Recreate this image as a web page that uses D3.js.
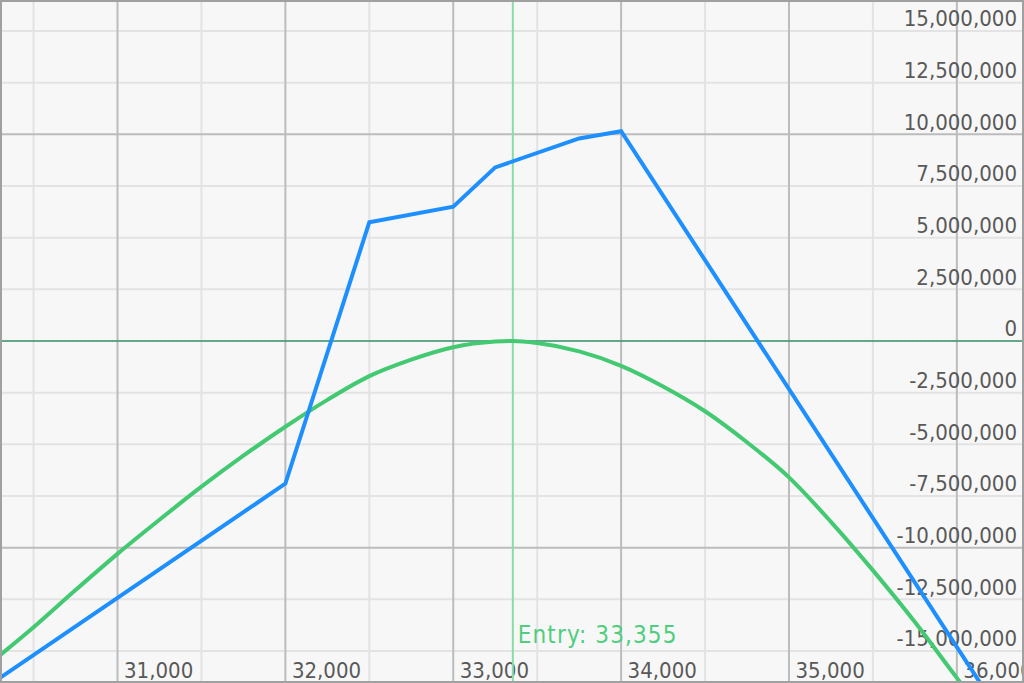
<!DOCTYPE html>
<html>
<head>
<meta charset="utf-8">
<script src="https://cdn.jsdelivr.net/npm/d3@7"></script>
<style>
  html, body { margin: 0; padding: 0; background: #f7f7f7; overflow: hidden; }
  svg { display: block; }
  text { font-family: 'DejaVu Sans Condensed', 'DejaVu Sans', sans-serif; font-stretch: condensed; }
</style>
</head>
<body>
<svg id="chart" width="1024" height="683"></svg>
<script>
// ---- data ----
const xTicks = [31000, 32000, 33000, 34000, 35000, 36000];
const xMinorTicks = [30500, 31500, 32500, 33500, 34500, 35500];
const yTicks = [-15000000, -12500000, -10000000, -7500000, -5000000, -2500000, 0,
                2500000, 5000000, 7500000, 10000000, 12500000, 15000000];
const yMajorTicks = [-10000000, 10000000];
const entryPrice = 33355;

// expiry P&L (blue)
const expiryPrices = [30300, 32000, 32500, 33000, 33250, 33750, 34000, 36400];
const expiryPnL = [-16300000, -6900000, 5750000, 6500000, 8400000, 9800000, 10150000, -19800000];

// current P&L (green)
const currentPrices = [30300, 30500, 30750, 31000, 31250, 31500, 31750, 32000, 32250, 32500,
                       32750, 33000, 33250, 33355, 33500, 33750, 34000, 34250, 34500, 34750,
                       35000, 35250, 35500, 35750, 36000, 36250, 36400];
const currentPnL = [-15200000, -13850000, -12050000, -10300000, -8650000, -7050000, -5550000,
                    -4150000, -2850000, -1700000, -900000, -300000, -30000, 0, -100000,
                    -500000, -1200000, -2200000, -3400000, -4900000, -6600000, -8750000,
                    -11100000, -13600000, -16300000, -18900000, -20500000];

// ---- chart ----
const W = 1024, H = 683;
const svg = d3.select('#chart');
const x = d3.scaleLinear().domain([30300, 36400]).range([0, W]);
const y = d3.scaleLinear().domain([-16500000, 16500000]).range([682, 0]);
const fmt = d3.formatLocale({decimal: '.', thousands: ',', grouping: [3], currency: ['', ''], minus: '-'}).format(',');

svg.append('rect').attr('width', W).attr('height', H).attr('fill', '#f7f7f7');

// minor grid
const grid = svg.append('g');
grid.selectAll('line.vminor').data(xMinorTicks).join('line')
  .attr('x1', d => x(d)).attr('x2', d => x(d)).attr('y1', 0).attr('y2', H)
  .attr('stroke', '#e3e3e3').attr('stroke-width', 2);
grid.selectAll('line.hminor').data(yTicks.filter(d => d !== 0 && !yMajorTicks.includes(d))).join('line')
  .attr('x1', 0).attr('x2', W).attr('y1', d => y(d)).attr('y2', d => y(d))
  .attr('stroke', '#e3e3e3').attr('stroke-width', 2);
// major grid
grid.selectAll('line.vmajor').data(xTicks).join('line')
  .attr('x1', d => x(d)).attr('x2', d => x(d)).attr('y1', 0).attr('y2', H)
  .attr('stroke', '#bcbcbc').attr('stroke-width', 2);
grid.selectAll('line.hmajor').data(yMajorTicks).join('line')
  .attr('x1', 0).attr('x2', W).attr('y1', d => y(d)).attr('y2', d => y(d))
  .attr('stroke', '#bcbcbc').attr('stroke-width', 2);

// axis labels (via d3 axes)
const yAxis = d3.axisLeft(y).tickValues(yTicks).tickSize(0).tickPadding(0).tickFormat(fmt);
const gy = svg.append('g').attr('transform', 'translate(1017,0)').call(yAxis);
gy.select('.domain').remove();
gy.selectAll('text').attr('fill', '#595959').attr('font-size', 22)
  .attr('font-family', null).attr('dy', '-0.24em').attr('text-anchor', 'end');

const xAxis = d3.axisBottom(x).tickValues(xTicks).tickSize(0).tickPadding(0).tickFormat(fmt);
const gx = svg.append('g').attr('transform', 'translate(0,678)').call(xAxis);
gx.select('.domain').remove();
gx.selectAll('text').attr('fill', '#595959').attr('font-size', 22)
  .attr('font-family', null).attr('text-anchor', 'start').attr('x', 6).attr('y', 0).attr('dy', 0);

// zero line
svg.append('line').attr('x1', 0).attr('x2', W).attr('y1', y(0)).attr('y2', y(0))
  .attr('stroke', '#4a9a78').attr('stroke-opacity', 0.85).attr('stroke-width', 2);

// entry line + label
svg.append('line').attr('x1', x(entryPrice)).attr('x2', x(entryPrice)).attr('y1', 0).attr('y2', H)
  .attr('stroke', '#86dea6').attr('stroke-width', 2);
svg.append('text').attr('x', x(entryPrice) + 5).attr('y', 643)
  .attr('fill', '#4fce7f').attr('font-size', 24).attr('letter-spacing', 1.1)
  .text('Entry: ' + fmt(entryPrice));

// curves
const currentData = currentPrices.map((p, i) => [p, currentPnL[i]]);
const expiryData = expiryPrices.map((p, i) => [p, expiryPnL[i]]);
svg.append('path').datum(currentData)
  .attr('d', d3.line().x(d => x(d[0])).y(d => y(d[1])).curve(d3.curveMonotoneX))
  .attr('fill', 'none').attr('stroke', '#42c972').attr('stroke-width', 4).attr('stroke-linejoin', 'round');
svg.append('path').datum(expiryData)
  .attr('d', d3.line().x(d => x(d[0])).y(d => y(d[1])))
  .attr('fill', 'none').attr('stroke', '#1e8fff').attr('stroke-width', 4).attr('stroke-linejoin', 'miter');

// frame
svg.append('rect').attr('x', 1).attr('y', 1).attr('width', W - 2).attr('height', H - 2)
  .attr('fill', 'none').attr('stroke', '#a0a0a0').attr('stroke-width', 2);
</script>
</body>
</html>
